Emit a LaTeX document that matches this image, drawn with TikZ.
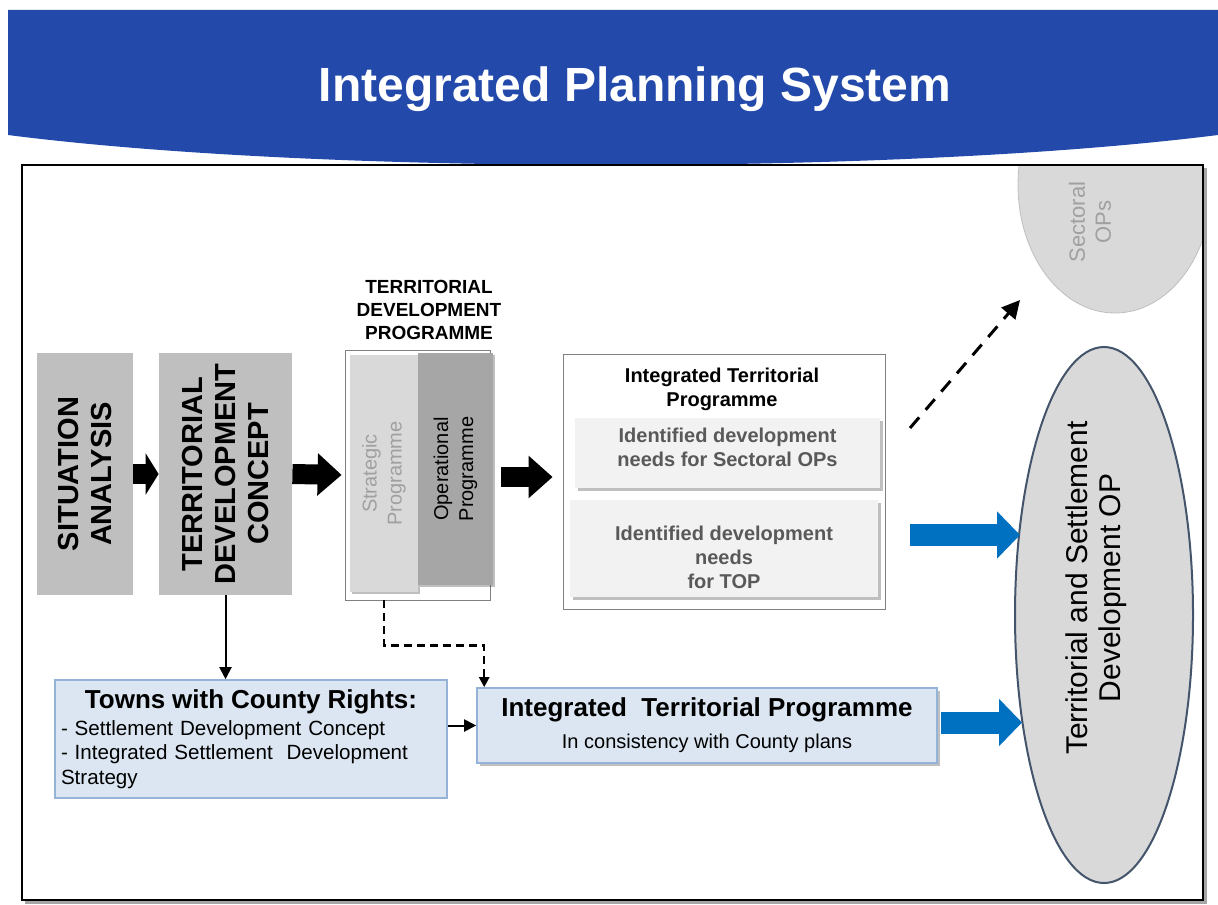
\documentclass[tikz,border=0pt]{standalone}
\usepackage{fontspec}
\setmainfont{Liberation Sans}
\usetikzlibrary{
    arrows.meta,
    positioning,
    shapes.geometric,
    calc,
    shadows
}
\definecolor{headblue}{RGB}{35,73,170}
\definecolor{boxgray}{RGB}{191,191,191}
\definecolor{panellight}{RGB}{217,217,217}
\definecolor{paneldark}{RGB}{166,166,166}
\definecolor{textgray}{RGB}{160,160,160}
\definecolor{framegray}{RGB}{128,128,128}
\definecolor{needgray}{RGB}{242,242,242}
\definecolor{needtext}{RGB}{89,89,89}
\definecolor{ellgray}{RGB}{217,217,217}
\definecolor{ellborder}{RGB}{68,84,106}
\definecolor{lightblue}{RGB}{220,230,242}
\definecolor{blueborder}{RGB}{149,179,215}
\definecolor{arrowblue}{RGB}{0,112,192}

\begin{document}
\begin{tikzpicture}[
    x=0.5pt, y=-0.5pt,
    stagebox/.style={
        rectangle, fill=boxgray, rotate=90, inner sep=0pt,
        align=center, font=\fontsize{14.5}{16.5}\selectfont\bfseries
    },
    panel/.style={
        rectangle, rotate=90, inner sep=0pt, align=center,
        font=\fontsize{10}{12.5}\selectfont,
        drop shadow={shadow xshift=1pt, shadow yshift=-1pt, opacity=0.25, fill=black}
    },
    framebox/.style={rectangle, draw=framegray, fill=white, inner sep=0pt},
    needbox/.style={
        rectangle, fill=needgray, inner sep=0pt, align=center,
        text=needtext, font=\fontsize{10}{12}\selectfont\bfseries,
        drop shadow={shadow xshift=1.5pt, shadow yshift=-1.5pt, opacity=0.25, fill=black}
    },
    bluebox/.style={
        rectangle, fill=lightblue, draw=blueborder, line width=0.8pt,
        font=\fontsize{10.3}{12.25}\selectfont
    },
    oval/.style={ellipse, fill=ellgray, inner sep=0pt},
    blockarrow/.style={line width=10pt, -{Triangle[length=12pt, width=20.5pt]}},
    bluearrow/.style={arrowblue, line width=11pt, -{Triangle[length=11.5pt, width=23pt]}},
    thinarrow/.style={line width=1pt, -{Triangle[length=6pt, width=6pt]}},
    dashline/.style={line width=1.2pt, dash pattern=on 4pt off 2.5pt, -{Triangle[length=5pt, width=5pt]}},
    bigdash/.style={line width=1.5pt, dash pattern=on 7pt off 5pt, -{Triangle[length=9pt, width=9pt]}}
]
\useasboundingbox (0,0) rectangle (1218,904);

% Header band
\fill[headblue] (8,10) -- (1218,10) -- (1218,135) .. controls (900,175) and (320,175) .. (8,135) -- cycle;
\node[text=white, font=\fontsize{24}{28}\selectfont\bfseries] (title) at (635,89) {Integrated Planning System};

% Sectoral OPs (cut by the frame)
\begin{scope}
\clip (22,165) rectangle (1203,900);
\node[oval, draw=boxgray, minimum width=97pt, minimum height=128pt] (sect) at (1115,185) {};
\end{scope}
\node[rotate=90, align=center, text=textgray, font=\fontsize{11}{13}\selectfont] (secttext) at (1090,222) {Sectoral\\OPs};

% Stages
\node[stagebox, minimum width=121pt, minimum height=48pt] (sit) at (85,474) {SITUATION\\ANALYSIS};
\node[stagebox, minimum width=121pt, minimum height=66.5pt] (tdc) at (225.5,474) {TERRITORIAL\\DEVELOPMENT\\CONCEPT};

% Territorial development programme
\node[align=center, font=\fontsize{9.5}{11.5}\selectfont\bfseries] (tdplab) at (429,310) {TERRITORIAL\\DEVELOPMENT\\PROGRAMME};
\node[framebox, minimum width=72.5pt, minimum height=125pt] (tdp) at (417.5,475) {};
\node[panel, fill=panellight, text=textgray, minimum width=118.5pt, minimum height=34pt] (strat) at (384,473.5) {Strategic\\Programme};
\node[panel, fill=paneldark, minimum width=116pt, minimum height=37.5pt] (oper) at (455.5,469) {Operational\\Programme};

% Integrated territorial programme (top)
\node[framebox, minimum width=161pt, minimum height=127.5pt] (itp) at (724,481.5) {};
\node[align=center, font=\fontsize{10}{12}\selectfont\bfseries] (itptitle) at (722,389) {Integrated Territorial\\Programme};
\node[needbox, minimum width=152.5pt, minimum height=35pt] (need1) at (727.5,453) {Identified development\\needs for Sectoral OPs\rule[-6pt]{0pt}{1pt}};
\node[needbox, minimum width=154pt, minimum height=48.5pt] (need2) at (724,548.5) {\rule{0pt}{16pt}Identified development\\needs\\for TOP};

% Territorial and Settlement Development OP
\node[oval, draw=ellborder, line width=1pt, minimum width=89pt, minimum height=268pt] (tso) at (1104,615) {};
\node[rotate=90, align=center, font=\fontsize{15}{16.5}\selectfont] (tsotext) at (1096,588) {Territorial and Settlement\\Development OP};

% Lower boxes
\node[bluebox, text width=190pt, inner xsep=3pt, minimum height=59pt, align=left] (towns) at (251,739)
    {{\fontsize{13}{15}\selectfont\bfseries\centering Towns with County Rights:\par}
     \vspace{1pt}- Settlement Development Concept\\
     - Integrated Settlement\ \ Development\\
     Strategy};
\node[bluebox, minimum width=230pt, minimum height=37.5pt, align=center, font=\fontsize{10}{12}\selectfont,
      drop shadow={shadow xshift=1.5pt, shadow yshift=-1.5pt, opacity=0.25, fill=black}] (itpb) at (707,725.5)
    {{\fontsize{13}{15}\selectfont\bfseries Integrated\ \ Territorial Programme}\\[4pt]In consistency with County plans};

% Block arrows
\draw[line width=10pt, -{Triangle[length=6.5pt, width=20.5pt]}] (sit.south) -- (tdc.north);
\draw[blockarrow, shorten >=1.5pt] (tdc.south) -- (tdp.west);
\draw[blockarrow, shorten <=5.5pt, shorten >=5pt] ([yshift=-1pt]tdp.east) -- ([yshift=-1pt]tdp.east -| itp.west);

% Blue arrows
\coordinate (b1) at (910,535);
\draw[bluearrow, shorten >=-3pt] (b1) -- (b1 -| tso.west);
\draw[bluearrow, shorten <=1.5pt, shorten >=-4pt] ([yshift=1.5pt]itpb.east) -- ([yshift=1.5pt]itpb.east -| tso.west);

% Towards sectoral OPs
\coordinate (d1) at (910,428);
\coordinate (d2) at (1020,300);
\draw[bigdash] (d1) -- (d2);

% Thin connectors
\draw[thinarrow] (tdc.west) -- (tdc.west |- towns.north);
\draw[thinarrow] (towns.east |- itpb.west) -- (itpb.west);
\draw[dashline] (tdp.south -| strat.west) -- ++(0,45) -| ([xshift=4pt]itpb.north west);

% Frame
\draw[black!35, line width=1.5pt] (25,902) -- (1205,902) -- (1205,168);
\draw[line width=1pt] (22,165) rectangle (1203,900);

\end{tikzpicture}
\end{document}
